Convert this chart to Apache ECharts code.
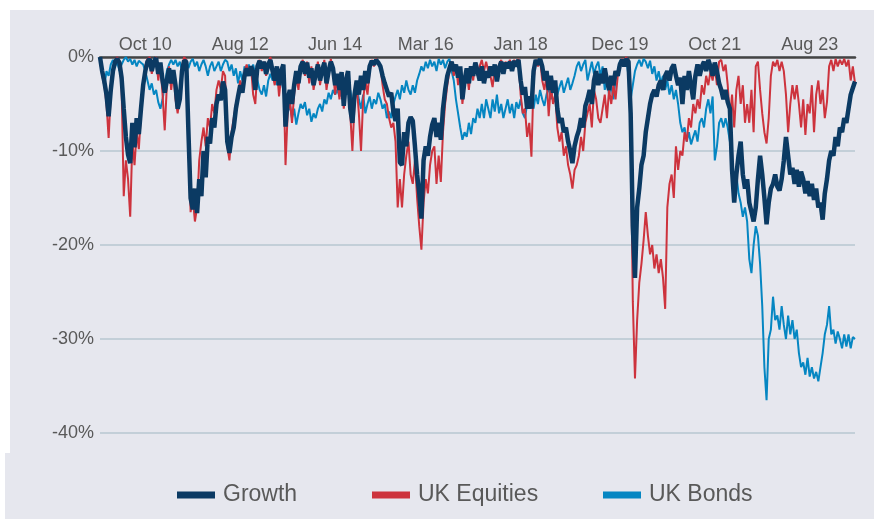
<!DOCTYPE html>
<html>
<head>
<meta charset="utf-8">
<script src="https://cdn.jsdelivr.net/npm/echarts@6/dist/echarts.min.js"></script>
<style>
  html, body { margin: 0; padding: 0; background: #ffffff; }
  #wrap { position: relative; width: 874px; height: 519px; overflow: hidden; background: #ffffff; }
  .panel { position: absolute; background: #E6E7EE; }
  #chart { position: absolute; left: 0; top: 0; width: 874px; height: 519px; }
</style>
</head>
<body>
<div id="wrap">
  <div class="panel" style="left:10px;top:10px;width:864px;height:509px;"></div>
  <div class="panel" style="left:5px;top:453px;width:10px;height:66px;"></div>
  <div id="chart"></div>
</div>
<script>
// Semi-monthly observations, Dec 2009 (first half) to Jul 2024
const startYear = 2009, startMonth = 11; // December (0-based)
const pointCount = 351;
const monthNames = ['Jan','Feb','Mar','Apr','May','Jun','Jul','Aug','Sep','Oct','Nov','Dec'];
const tickLabels = ['Oct 10','Aug 12','Jun 14','Mar 16','Jan 18','Dec 19','Oct 21','Aug 23'];
const seriesNames = ['Growth','UK Equities','UK Bonds'];

const categories = [];
for (let k = 0; k < pointCount; k++) {
  const m = startMonth + Math.floor(k / 2);
  const y = startYear + Math.floor(m / 12);
  const mo = m % 12;
  categories.push(y + '-' + String(mo + 1).padStart(2, '0') + '-' + (k % 2 === 0 ? 'a' : 'b'));
}

// Drawdown, %
const growth = [
  0, -1.5, -2.6, -4.0, -6.3, -3.5, -1.5, -0.5, -0.2, -0.6,
  -2.2, -5.5, -8.5, -10.4, -11.3, -7.0, -9.6, -6.5, -8.2, -5.5,
  -3.0, -1.5, -0.5, -0.2, -1.5, -0.5, -0.1, -1.8, -0.6, -2.5,
  -3.8, -2.5, -1.2, -2.8, -1.4, -3.0, -5.5, -4.5, -1.5, -0.4,
  -0.5, -8.0, -15.0, -16.2, -14.0, -16.6, -13.0, -14.8, -10.0, -12.8,
  -8.5, -9.2, -6.5, -7.5, -5.0, -4.0, -4.6, -2.6, -3.5, -9.0,
  -10.2, -8.5, -7.5, -5.5, -4.2, -3.0, -3.8, -2.0, -1.2, -2.0,
  -1.0, -1.6, -3.5, -1.0, -0.4, -1.2, -0.5, -1.8, -0.8, -0.3,
  -1.5, -2.5, -1.0, -3.0, -1.5, -0.8, -7.4, -4.5, -3.5, -5.0,
  -3.0, -1.5, -2.8, -1.0, -0.5, -1.8, -0.6, -2.2, -1.2, -3.0,
  -1.8, -0.8, -2.5, -1.4, -0.6, -2.8, -1.5, -0.5, -1.2, -3.0,
  -1.8, -3.5, -1.6, -5.2, -2.5, -1.5, -5.5, -7.0, -4.0, -2.5,
  -4.0, -2.0, -3.5, -1.5, -2.8, -1.0, -0.4, -0.8, -0.3, -0.6,
  -1.0, -2.0, -2.8, -3.5, -4.2, -3.8, -5.8, -6.8, -5.5, -11.2,
  -11.5, -8.0, -9.5, -7.0, -6.4, -6.8, -9.5, -12.5, -14.5, -17.2,
  -11.0, -9.5, -10.5, -8.5, -7.2, -6.5, -8.5, -7.0, -8.8, -5.5,
  -3.5, -2.0, -1.2, -0.5, -1.5, -0.8, -2.2, -1.0, -4.5, -2.5,
  -1.2, -2.8, -1.0, -2.0, -0.6, -1.5, -2.5, -1.0, -2.8, -1.5,
  -2.2, -1.0, -2.0, -0.8, -2.6, -1.2, -0.5, -1.8, -0.6, -1.2,
  -0.5, -1.5, -0.4, -1.0, -0.3, -2.5, -4.0, -3.2, -5.5, -4.2,
  -5.5, -1.5, -0.3, -0.8, -0.2, -1.0, -2.5, -1.5, -3.5, -2.0,
  -3.8, -2.5, -5.5, -7.0, -6.5, -8.0, -7.5, -9.0, -10.0, -11.3,
  -9.5, -8.5, -7.8, -6.5, -7.5, -5.2, -4.5, -3.5, -5.0, -2.5,
  -1.5, -3.0, -1.8, -2.8, -1.2, -2.5, -3.5, -2.0, -3.0, -1.5,
  -2.0, -0.8, -0.3, -1.0, -0.2, -0.5, -6.0, -18.0, -23.5, -16.0,
  -14.0, -11.5, -10.5, -8.0, -6.5, -5.0, -4.0, -3.5, -4.2, -3.0,
  -2.5, -3.5, -2.0, -1.5, -2.5, -1.2, -0.8, -2.0, -3.0, -2.2,
  -5.0, -2.0, -3.5, -1.5, -3.0, -4.5, -2.0, -0.8, -2.0, -1.0,
  -0.5, -1.5, -0.3, -1.0, -2.0, -0.6, -1.5, -2.8, -3.5, -4.5,
  -3.5, -4.8, -5.5, -12.0, -15.5, -12.5, -10.5, -9.0, -12.5, -14.0,
  -13.0, -15.5, -16.5, -17.5, -16.0, -13.0, -10.5, -12.5, -15.0, -17.8,
  -15.5, -14.0, -13.5, -12.5, -13.8, -14.2, -13.0, -11.0, -8.5, -10.5,
  -12.5, -11.8, -13.5, -12.0, -13.8, -12.2, -13.0, -14.5, -13.2, -14.8,
  -13.5, -15.2, -14.0, -16.0, -15.5, -17.3, -14.5, -13.0, -11.0, -10.0,
  -10.5, -8.5, -9.5, -7.5, -8.0, -6.5, -7.0, -5.5, -4.0, -3.3,
  -2.6
];

const ukEquities = [
  -0.3, -2.0, -3.0, -5.0, -8.6, -4.0, -1.5, -0.3, 0, -0.8,
  -3.0, -14.8, -11.0, -13.0, -17.0, -9.0, -11.5, -8.0, -9.8, -6.0,
  -3.5, -1.0, -0.2, 0, -1.8, -0.5, 0, -2.5, -0.8, -4.0,
  -7.8, -3.0, -1.0, -3.5, -1.5, -4.5, -6.0, -4.0, -1.0, 0,
  -0.3, -9.5, -16.5, -15.0, -17.5, -16.0, -11.0, -9.0, -7.5, -9.5,
  -6.5, -7.5, -5.0, -6.0, -3.5, -2.5, -3.5, -1.5, -2.0, -9.5,
  -11.0, -8.0, -6.5, -5.0, -4.0, -2.5, -3.5, -1.5, -0.8, -1.8,
  -1.0, -4.0, -5.0, -1.2, -0.3, -1.5, -0.5, -2.0, -0.6, 0,
  -1.8, -3.0, -1.2, -4.2, -2.0, -1.0, -11.5, -6.0, -4.5, -7.0,
  -4.0, -2.0, -3.5, -1.0, -0.3, -2.0, -0.5, -2.8, -1.0, -3.5,
  -2.0, -0.5, -3.0, -1.5, -0.3, -3.5, -1.8, -0.2, -1.5, -4.0,
  -2.0, -4.5, -2.0, -5.5, -3.0, -2.0, -6.0, -10.0, -5.0, -3.0,
  -6.0, -10.0, -4.5, -2.5, -4.0, -1.5, -0.3, -1.0, -0.2, -0.5,
  -1.0, -3.0, -4.5, -5.0, -6.5, -7.5, -7.0, -9.0, -16.0, -13.0,
  -16.0, -12.5, -10.5, -9.0, -12.5, -13.5, -11.0, -15.0, -18.0, -20.5,
  -15.5, -13.0, -14.5, -11.5, -10.0, -9.5, -13.5, -10.5, -13.3, -8.0,
  -5.0, -3.0, -1.5, -0.5, -2.0, -0.8, -3.0, -1.2, -5.0, -3.0,
  -1.5, -3.5, -1.0, -2.5, -0.6, -2.0, -1.0, -0.3, -1.5, -0.5,
  -1.5, -2.0, -3.2, -1.2, -2.0, -0.8, -0.3, -1.5, -0.5, -1.0,
  -0.3, -1.2, -0.3, -0.8, -0.2, -4.0, -6.0, -5.5, -8.5, -7.0,
  -10.6, -2.5, -0.3, -1.0, -0.2, -2.5, -3.5, -2.0, -6.3, -3.0,
  -5.0, -4.0, -7.5, -9.0, -8.0, -10.5, -9.5, -11.5, -12.5, -14.0,
  -12.0, -11.5, -10.5, -8.5, -10.0, -7.0, -6.0, -5.0, -7.5, -3.5,
  -4.5, -6.5, -7.0, -5.5, -4.0, -6.5, -3.5, -5.0, -3.0, -4.5,
  -2.0, -0.8, -0.2, -0.5, 0, -0.3, -8.0, -26.0, -34.2, -28.0,
  -24.0, -22.0, -19.5, -16.5, -19.0, -21.0, -20.0, -22.5, -21.0, -23.0,
  -21.5, -23.5, -26.8, -16.0, -13.5, -12.5, -15.0, -9.5, -12.0, -10.0,
  -10.5, -8.0, -9.0, -6.5, -7.5, -5.0, -6.0, -4.5, -5.5, -3.0,
  -4.0, -2.0, -3.0, -1.5, -2.5, -1.0, -3.0, -0.5, -0.3, -1.5,
  -0.8, -3.0, -6.5, -4.0, -7.5, -3.5, -2.0, -5.0, -3.0, -7.0,
  -5.0, -7.0, -3.5, -8.0, -1.0, -0.5, -3.5, -6.0, -8.0, -9.2,
  -6.5, -2.0, -0.5, -1.0, -0.3, -1.5, -0.5, -1.5, -4.0, -8.0,
  -5.0, -3.0, -4.5, -3.0, -5.0, -7.5, -4.5, -8.3, -5.0, -6.0,
  -3.0, -8.0, -4.0, -2.5, -5.0, -3.5, -6.5, -4.8, -1.0, -0.3,
  -1.5, -0.2, -1.0, -0.3, -0.8, -0.2, -1.0, -0.3, -2.5, -1.0,
  -2.8
];

const ukBonds = [
  -0.5, -1.5, -3.2, -1.5, -2.0, -0.8, -0.3, -1.0, -0.5, -1.5,
  -0.8, -0.3, 0, -0.5, -0.2, -0.8, -0.3, -1.0, -0.4, -0.6,
  -0.8, -1.5, -2.5, -3.5, -2.8, -4.0, -3.5, -4.8, -5.5, -4.5,
  -3.0, -1.5, -0.8, -0.3, -0.8, -0.3, -1.0, -0.5, -1.5, -0.8,
  -0.3, -1.2, -0.5, -0.2, -1.0, -0.5, -1.5, -0.8, -0.3, -1.0,
  -2.0, -1.0, -0.5, -1.5, -1.0, -0.5, -1.5, -0.8, -0.3, -0.5,
  -1.5, -0.8, -2.0, -1.2, -2.8, -1.5, -2.5, -1.0, -1.8, -0.8,
  -1.5, -0.8, -1.8, -2.5, -3.5, -4.0, -3.0, -4.2, -2.5, -1.8,
  -2.5, -1.5, -3.0, -1.8, -2.5, -3.5, -5.0, -6.0, -5.0, -6.5,
  -5.5, -7.2, -6.0, -5.0, -5.5, -4.8, -6.2, -5.5, -6.9, -6.0,
  -6.5, -5.5, -5.0, -5.8, -4.5, -5.0, -3.8, -4.5, -3.5, -4.0,
  -3.5, -4.2, -3.8, -4.5, -3.2, -4.0, -3.5, -5.0, -4.0, -3.0,
  -4.5, -5.5, -4.0, -6.0, -5.0, -4.2, -5.5, -4.5, -5.0, -3.8,
  -4.5, -5.5, -5.0, -6.5, -5.8, -6.5, -5.0, -4.2, -3.5, -4.5,
  -3.0, -3.8, -2.5, -3.5, -4.0, -3.0, -3.8, -2.5, -1.8, -1.0,
  -1.5, -0.5, -1.2, -0.3, -1.0, -0.5, -1.5, -0.2, -0.8, -0.3,
  -1.2, -0.5, -0.2, -1.5, -2.5, -4.5, -6.0, -7.5, -8.8, -8.0,
  -8.5, -7.0, -8.2, -6.5, -7.0, -5.5, -6.5, -5.0, -6.5, -4.5,
  -5.5, -6.5, -4.5, -5.8, -4.0, -6.0, -5.0, -6.5, -5.5, -4.5,
  -6.0, -5.0, -6.5, -4.8, -5.5, -4.5, -6.0, -6.5, -5.0, -5.5,
  -4.5, -5.5, -4.0, -5.0, -3.5, -4.5, -5.2, -4.0, -3.2, -4.5,
  -3.5, -2.8, -4.0, -3.2, -2.5, -3.8, -3.0, -2.2, -3.5, -2.8,
  -2.0, -1.0, -0.5, -1.5, -0.8, -0.3, -2.5, -1.5, -0.5, -1.8,
  -1.0, -0.5, -2.0, -1.0, -3.5, -2.5, -4.0, -3.0, -4.5, -2.5,
  -1.5, -0.5, -0.2, -1.0, -0.3, -2.0, -4.5, -3.0, -1.5, -0.8,
  -0.3, -1.0, -0.2, -0.5, -1.2, -0.4, -1.8, -1.0, -2.5, -1.5,
  -2.8, -2.0, -3.5, -2.5, -4.0, -3.0, -4.5, -3.5, -5.0, -7.0,
  -8.0, -7.5, -9.0, -8.0, -9.3, -8.5, -7.8, -9.0, -7.0, -6.5,
  -7.5, -5.5, -4.5, -6.0, -4.2, -11.0, -9.5, -7.0, -6.5, -7.5,
  -6.5, -7.5, -9.0, -11.0, -13.5, -12.5, -14.5, -15.5, -17.0, -16.0,
  -17.5, -21.5, -23.0, -20.0, -18.0, -19.0, -22.0, -26.5, -33.0, -36.5,
  -30.0, -29.0, -25.5, -28.0, -27.5, -29.0, -26.5, -28.5, -30.0, -27.5,
  -29.5, -28.0, -30.0, -29.0, -31.5, -33.0, -32.5, -33.8, -32.0, -34.0,
  -33.0, -34.2, -33.5, -34.5, -33.0, -31.5, -29.5, -28.5, -26.5, -29.5,
  -29.0, -30.5, -29.2, -30.0, -31.0, -29.5, -30.8, -29.5, -31.0, -29.8,
  -30.0
];

const colors = { 'Growth': '#0B3A63', 'UK Equities': '#CD333D', 'UK Bonds': '#0586C2' };

function catLabel(cat) {
  const parts = cat.split('-');
  return monthNames[parseInt(parts[1], 10) - 1] + ' ' + parts[0].slice(2);
}

const chart = echarts.init(document.getElementById('chart'), null, { renderer: 'canvas' });
const font = 'Liberation Sans, Arial, Helvetica, sans-serif';

function legendAt(name, left) {
  return {
    data: [name], left: left, top: 482, padding: 0, icon: 'rect', itemWidth: 38, itemHeight: 7,
    textStyle: { fontFamily: font, fontSize: 23, color: '#595959', padding: [0, 0, 0, 3], lineHeight: 26 },
    selectedMode: false
  };
}

chart.setOption({
  animation: false,
  backgroundColor: 'transparent',
  textStyle: { fontFamily: font },
  grid: { left: 100, right: 19, top: 57, bottom: 86, containLabel: false },
  legend: [legendAt('Growth', 177), legendAt('UK Equities', 372), legendAt('UK Bonds', 603)],
  xAxis: {
    type: 'category',
    position: 'top',
    boundaryGap: false,
    data: categories,
    axisLine: { show: true, onZero: false, lineStyle: { color: '#444444', width: 2.5 } },
    axisTick: { show: false },
    axisLabel: {
      interval: function (idx, val) { return val.endsWith('b') && tickLabels.indexOf(catLabel(val)) >= 0; },
      formatter: function (val) { return catLabel(val); },
      fontFamily: font, fontSize: 18, color: '#595959', margin: 3
    },
    splitLine: { show: false }
  },
  yAxis: {
    type: 'value',
    min: -40, max: 0, interval: 10,
    axisLine: { show: false },
    axisTick: { show: false },
    axisLabel: { formatter: '{value}%', fontFamily: font, fontSize: 18, color: '#595959', margin: 6 },
    splitLine: { lineStyle: { color: '#C3CFD8', width: 2 } }
  },
  series: [
    { name: 'UK Bonds', type: 'line', data: ukBonds, showSymbol: false, symbol: 'none',
      color: colors['UK Bonds'], lineStyle: { width: 2, color: colors['UK Bonds'] }, z: 2 },
    { name: 'UK Equities', type: 'line', data: ukEquities, showSymbol: false, symbol: 'none',
      color: colors['UK Equities'], lineStyle: { width: 2, color: colors['UK Equities'] }, z: 3 },
    { name: 'Growth', type: 'line', data: growth, showSymbol: false, symbol: 'none',
      color: colors['Growth'], lineStyle: { width: 4.5, color: colors['Growth'] }, z: 4 }
  ]
});
</script>
</body>
</html>
